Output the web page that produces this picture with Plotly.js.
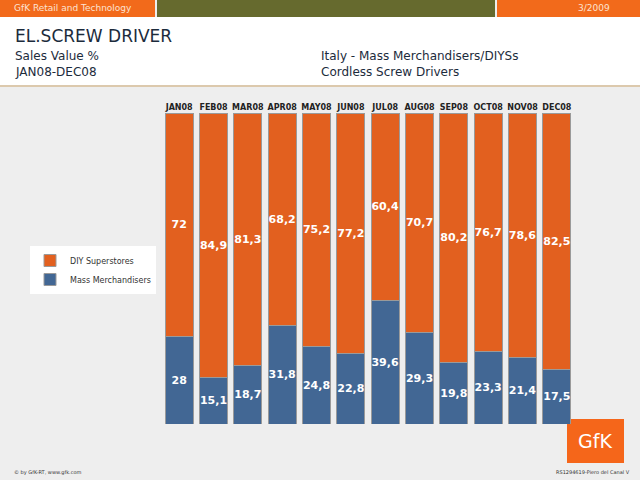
<!DOCTYPE html>
<html>
<head>
<meta charset="utf-8">
<script src="https://cdn.plot.ly/plotly-3.0.1.min.js"></script>
<style>
  html, body { margin: 0; padding: 0; background: #eeeeee; }
  #chart { width: 640px; height: 480px; }
</style>
</head>
<body>
<div id="chart"></div>
<script>
const MONTHS = ["JAN08", "FEB08", "MAR08", "APR08", "MAY08", "JUN08",
  "JUL08", "AUG08", "SEP08", "OCT08", "NOV08", "DEC08"];
const MASS_MERCH = [28, 15.1, 18.7, 31.8, 24.8, 22.8, 39.6, 29.3, 19.8, 23.3, 21.4, 17.5];
const DIY_STORES = [72, 84.9, 81.3, 68.2, 75.2, 77.2, 60.4, 70.7, 80.2, 76.7, 78.6, 82.5];

const W = 640;
const H = 480;
// pixel -> paper helpers, page is drawn on a 640x480 paper with no margins
const px = (x) => x / W;
const py = (y) => 1 - y / H;

const fmtComma = (v) => String(v).replace(".", ",");

function barTrace(name, values, color) {
  return {
    type: "bar",
    name,
    x: MONTHS,
    y: values,
    text: values.map(fmtComma),
    textposition: "inside",
    insidetextanchor: "middle",
    textangle: 0,
    constraintext: "none",
    cliponaxis: false,
    textfont: { family: "DejaVu Sans", size: 11, color: "#ffffff", weight: "bold" },
    marker: { color, line: { color: "#9a9a9a", width: 1 } },
    hoverinfo: "skip",
  };
}

const traces = [
  barTrace("Mass Merchandisers", MASS_MERCH, "#426794"),
  barTrace("DIY Superstores", DIY_STORES, "#e2601f"),
];

const rect = (x0, y0, x1, y1, color) => ({
  type: "rect", xref: "paper", yref: "paper",
  x0: px(x0), x1: px(x1), y0: py(y1), y1: py(y0),
  fillcolor: color, line: { width: 0 }, layer: "below",
});

const shapes = [
  rect(0, 17, 640, 85, "#ffffff"),
  rect(0, 0, 155, 17, "#f26a1b"),
  rect(157, 0, 495, 17, "#666a2e"),
  rect(497, 0, 640, 17, "#f26a1b"),
  rect(0, 85, 640, 87, "#dcc9ad"),
  rect(567, 419, 624, 463, "#f5661a"),
];

const txt = (x, y, text, size, color, anchor, extra) => Object.assign({
  xref: "paper", yref: "paper", x: px(x), y: py(y),
  xanchor: anchor || "left", yanchor: "middle",
  text, showarrow: false,
  font: { family: "DejaVu Sans", size, color },
}, extra || {});

const annotations = [
  txt(12, 8, "GfK Retail and Technology", 9, "#fde3d2"),
  txt(612, 8, "3/2009", 9, "#fde3d2", "right"),
  txt(13, 36, "EL.SCREW DRIVER", 17, "#1c2b3c"),
  txt(13, 56, "Sales Value %", 12, "#1c2b3c"),
  txt(13, 72, "JAN08-DEC08", 12, "#1c2b3c"),
  txt(319, 56, "Italy - Mass Merchandisers/DIYSs", 12, "#1c2b3c"),
  txt(319, 72, "Cordless Screw Drivers", 12, "#1c2b3c"),
  txt(595, 441, "GfK", 19, "#ffffff", "center"),
  txt(12, 472, "© by GfK-RT, www.gfk.com", 5, "#333333"),
  txt(632, 472, "RS1294619-Piero del Canal V", 5, "#333333", "right"),
];

const layout = {
  width: W,
  height: H,
  margin: { l: 0, r: 0, t: 0, b: 0 },
  paper_bgcolor: "#eeeeee",
  plot_bgcolor: "rgba(0,0,0,0)",
  barmode: "stack",
  bargap: 0.18,
  showlegend: true,
  xaxis: {
    domain: [px(162), px(574)],
    side: "top",
    ticks: "",
    showgrid: false,
    showline: false,
    zeroline: false,
    tickfont: { family: "DejaVu Sans", size: 8, color: "#222222", weight: "bold" },
    fixedrange: true,
  },
  yaxis: {
    domain: [py(424), py(113)],
    range: [0, 100],
    visible: false,
    fixedrange: true,
  },
  legend: {
    x: px(30),
    y: py(246),
    xanchor: "left",
    yanchor: "top",
    bgcolor: "#ffffff",
    font: { family: "DejaVu Sans", size: 8, color: "#333333" },
    tracegroupgap: 0,
    itemwidth: 30,
  },
  shapes,
  annotations,
};

Plotly.newPlot("chart", traces, layout, { displayModeBar: false, staticPlot: true });
</script>
</body>
</html>
